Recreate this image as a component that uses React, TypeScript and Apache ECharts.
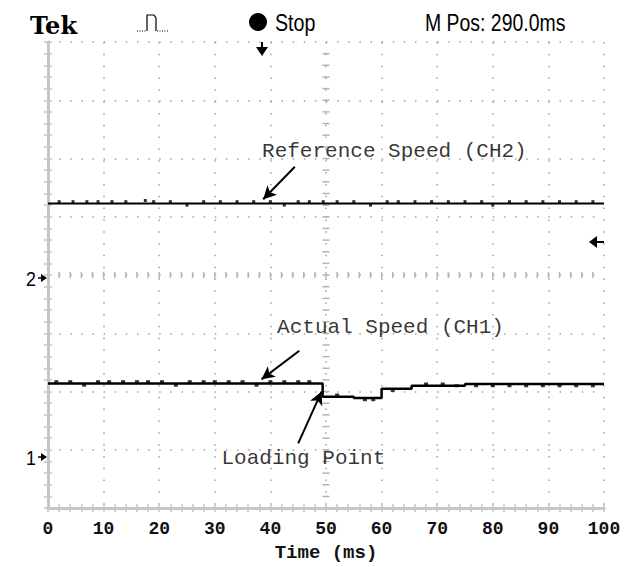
import React, { useEffect, useRef } from "react";
import * as echarts from "echarts";

// ---- data (time in ms, level in screen divisions, 0 = bottom graticule line) ----
const xTickLabels = ["0", "10", "20", "30", "40", "50", "60", "70", "80", "90", "100"];
const refTime = [0, 100];
const refLevel = [5.23, 5.23];
const actTime = [0, 49.4, 49.4, 55, 55, 60, 60, 65.4, 65.4, 75, 75, 100];
const actLevel = [2.14, 2.14, 1.91, 1.91, 1.89, 1.89, 2.05, 2.05, 2.1, 2.1, 2.13, 2.13];
// small glitches riding on the traces
const refGlitchTime = [2, 4.5, 7, 9, 11.5, 14, 17.5, 19, 22, 25, 28, 31, 34, 37, 40, 42.5, 45, 47, 49.5, 52, 55, 58, 61, 63, 66, 69, 72, 75, 78, 80, 83, 86, 89, 92, 95, 98];
const refGlitchLevel = [5.26, 5.26, 5.26, 5.26, 5.26, 5.26, 5.28, 5.26, 5.26, 5.2, 5.26, 5.26, 5.26, 5.26, 5.26, 5.2, 5.26, 5.26, 5.26, 5.26, 5.26, 5.2, 5.26, 5.26, 5.26, 5.26, 5.26, 5.26, 5.26, 5.2, 5.26, 5.26, 5.26, 5.26, 5.26, 5.26];
const actGlitchTime = [1.5, 4, 6.5, 9, 11, 13.5, 16, 18, 20.5, 23, 25.5, 28, 30, 32.5, 35, 37.5, 40, 42.5, 45, 47, 52, 57, 58.5, 62, 68, 71, 73.5, 77, 80, 83, 86, 89, 92, 95, 98];
const actGlitchLevel = [2.17, 2.17, 2.11, 2.17, 2.17, 2.17, 2.17, 2.17, 2.17, 2.11, 2.17, 2.17, 2.17, 2.17, 2.17, 2.11, 2.17, 2.17, 2.17, 2.17, 1.94, 1.86, 1.86, 2.02, 2.13, 2.13, 2.1, 2.1, 2.1, 2.1, 2.1, 2.1, 2.1, 2.1, 2.1];
const annotations = [
  { text: "Reference Speed (CH2)", at: [38.5, 6.12], tail: [44.4, 5.86], head: [38.7, 5.3] },
  { text: "Actual Speed (CH1)", at: [41.2, 3.1], tail: [45.2, 2.7], head: [38.4, 2.21] },
  { text: "Loading Point", at: [31.2, 0.85], tail: [45.0, 1.11], head: [49.2, 2.0] },
];

const GRID = { left: 48, top: 42, width: 556, height: 473 };
const FRAME = "#c6c6c6";
const DOT = "#a0a0a0";
const MONO = "'Liberation Mono', 'DejaVu Sans Mono', monospace";
const SANS = "'Liberation Sans', Arial, sans-serif";

export default function App() {
  const ref = useRef<HTMLDivElement>(null);
  useEffect(() => {
    document.body.style.margin = "0";
    const chart = echarts.init(ref.current!, null, { renderer: "svg" });

    const reticle: number[][] = [];
    for (let i = 1; i < 50; i++) reticle.push([i * 2, 4, 0]);
    for (let i = 1; i < 40; i++) reticle.push([50, i * 0.2, 1]);

    const frameAxis = {
      axisLine: { show: true, lineStyle: { color: FRAME, width: 3 } },
      axisTick: { show: true, inside: true, length: 4, lineStyle: { color: FRAME, width: 1.5 } },
      minorTick: { show: true, splitNumber: 5, length: 4, lineStyle: { color: FRAME, width: 1.5 } },
    };

    chart.setOption({
      animation: false,
      backgroundColor: "#ffffff",
      grid: GRID,
      xAxis: [
        {
          type: "value", min: 0, max: 100, interval: 10, position: "bottom",
          ...frameAxis,
          axisLabel: {
            color: "#111", fontFamily: MONO, fontWeight: "bold", fontSize: 18, margin: 12,
            formatter: (v: number) => xTickLabels[Math.round(v / 10)],
          },
          name: "Time (ms)", nameLocation: "middle", nameGap: 31,
          nameTextStyle: { color: "#111", fontFamily: MONO, fontWeight: "bold", fontSize: 19 },
          splitLine: { show: true, lineStyle: { color: DOT, width: 1.5, type: [1.5, 10.325] } },
        },
        {
          type: "value", min: 0, max: 100, interval: 10, position: "top",
          ...frameAxis, axisLabel: { show: false }, splitLine: { show: false },
        },
      ],
      yAxis: [
        {
          type: "value", min: 0, max: 8, interval: 1, position: "left",
          ...frameAxis, axisLabel: { show: false },
          splitLine: { show: true, lineStyle: { color: DOT, width: 1.5, type: [1.5, 9.62] } },
        },
        {
          type: "value", min: 0, max: 8, interval: 1, position: "right",
          ...frameAxis, axisLabel: { show: false }, splitLine: { show: false },
        },
      ],
      series: [
        {
          type: "custom", silent: true, z: 1,
          data: reticle,
          renderItem: (_p: any, api: any) => {
            const p = api.coord([api.value(0), api.value(1)]);
            const vert = api.value(2) === 0;
            return {
              type: "line",
              shape: vert
                ? { x1: p[0], y1: p[1] - 3, x2: p[0], y2: p[1] + 3 }
                : { x1: p[0] - 3.5, y1: p[1], x2: p[0] + 3.5, y2: p[1] },
              style: { stroke: "#b4b4b4", lineWidth: 1.5 },
            };
          },
        },
        {
          type: "line", z: 5, symbol: "none", silent: true,
          data: refTime.map((t, i) => [t, refLevel[i]]),
          lineStyle: { color: "#000", width: 2 },
          markLine: {
            silent: true, symbol: ["none", "arrow"], symbolSize: [10, 13], label: { show: false },
            lineStyle: { color: "#000", width: 2, type: "solid" },
            data: annotations.map((a) => [{ coord: a.tail }, { coord: a.head }]),
          },
        },
        {
          type: "line", z: 5, symbol: "none", silent: true,
          data: actTime.map((t, i) => [t, actLevel[i]]),
          lineStyle: { color: "#000", width: 2.5 },
        },
        {
          type: "scatter", z: 5, silent: true, symbol: "rect", symbolSize: [3, 3],
          itemStyle: { color: "#000" },
          data: refGlitchTime.map((t, i) => [t, refGlitchLevel[i]]),
        },
        {
          type: "scatter", z: 5, silent: true, symbol: "rect", symbolSize: [4, 3],
          itemStyle: { color: "#000" },
          data: actGlitchTime.map((t, i) => [t, actGlitchLevel[i]]),
        },
        {
          type: "scatter", z: 6, silent: true, symbolSize: 0,
          data: annotations.map((a) => ({
            value: a.at,
            label: {
              show: true, position: "right", distance: 0, formatter: a.text,
              color: "#000", fontFamily: MONO, fontSize: 21,
            },
          })),
        },
      ],
      graphic: [
        { type: "text", x: 30, y: 25, style: { text: "Tek", fontFamily: "'DejaVu Serif', serif", fontWeight: "bold", fontSize: 24, fill: "#000", verticalAlign: "middle" } },
        // pulse icon
        { type: "polyline", shape: { points: [[147, 31], [147, 15], [154, 15], [156, 18], [156, 31]] }, style: { stroke: "#000", lineWidth: 1.2, fill: null } },
        { type: "line", shape: { x1: 137, y1: 31, x2: 146, y2: 31 }, style: { stroke: "#000", lineWidth: 1.2, lineDash: [1, 1.5] } },
        { type: "line", shape: { x1: 157, y1: 31, x2: 168, y2: 31 }, style: { stroke: "#000", lineWidth: 1.2, lineDash: [1, 1.5] } },
        { type: "circle", shape: { cx: 258, cy: 22, r: 9 }, style: { fill: "#000" } },
        { type: "text", x: 275, y: 23, scaleX: 0.82, style: { text: "Stop", fontFamily: SANS, fontSize: 24, fill: "#000", verticalAlign: "middle" } },
        { type: "text", x: 425, y: 23, scaleX: 0.81, style: { text: "M Pos: 290.0ms", fontFamily: SANS, fontSize: 24, fill: "#000", verticalAlign: "middle" } },
        // trigger position marker
        { type: "line", shape: { x1: 262, y1: 42, x2: 262, y2: 49 }, style: { stroke: "#000", lineWidth: 2 } },
        { type: "polygon", shape: { points: [[256, 47], [268, 47], [262, 56]] }, style: { fill: "#000" } },
        // trigger level marker
        { type: "polygon", shape: { points: [[589, 242], [597, 236], [597, 248]] }, style: { fill: "#000" } },
        { type: "line", shape: { x1: 596, y1: 242, x2: 604, y2: 242 }, style: { stroke: "#000", lineWidth: 2 } },
        // channel ground markers
        { type: "text", x: 26, y: 278, scaleX: 0.85, style: { text: "2", fontFamily: SANS, fontSize: 21, fill: "#000", verticalAlign: "middle" } },
        { type: "polygon", shape: { points: [[47, 278], [41, 274], [41, 282]] }, style: { fill: "#000" } },
        { type: "line", shape: { x1: 38, y1: 278, x2: 42, y2: 278 }, style: { stroke: "#000", lineWidth: 1.5 } },
        { type: "text", x: 26, y: 457, scaleX: 0.85, style: { text: "1", fontFamily: SANS, fontSize: 21, fill: "#000", verticalAlign: "middle" } },
        { type: "polygon", shape: { points: [[47, 457], [41, 453], [41, 461]] }, style: { fill: "#000" } },
        { type: "line", shape: { x1: 38, y1: 457, x2: 42, y2: 457 }, style: { stroke: "#000", lineWidth: 1.5 } },
      ],
    });
    return () => chart.dispose();
  }, []);
  return <div ref={ref} style={{ width: 636, height: 567 }} />;
}
